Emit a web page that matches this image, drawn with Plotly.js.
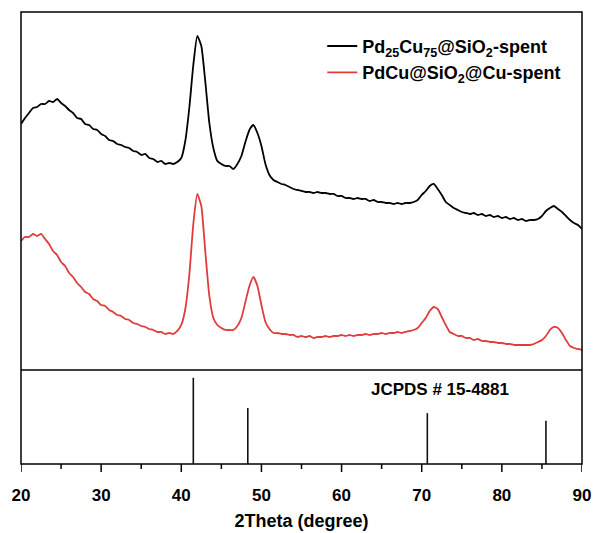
<!DOCTYPE html>
<html>
<head>
<meta charset="utf-8">
<script src="https://cdn.plot.ly/plotly-3.0.1.min.js"></script>
<style>html,body{margin:0;padding:0;background:#fff;}#chart{width:593px;height:533px;}</style>
</head>
<body>
<div id="chart"></div>
<script>
// 2Theta grid (degree)
const twoTheta = [
  20,20.5,21,21.5,22,22.5,23,23.5,24,24.5,
  25,25.5,26,26.5,27,27.5,28,28.5,29,29.5,
  30,30.5,31,31.5,32,32.5,33,33.5,34,34.5,
  35,35.5,36,36.5,37,37.5,38,38.5,39,39.5,
  40,40.5,41,41.5,42,42.5,43,43.5,44,44.5,
  45,45.5,46,46.5,47,47.5,48,48.5,49,49.5,
  50,50.5,51,51.5,52,52.5,53,53.5,54,54.5,
  55,55.5,56,56.5,57,57.5,58,58.5,59,59.5,
  60,60.5,61,61.5,62,62.5,63,63.5,64,64.5,
  65,65.5,66,66.5,67,67.5,68,68.5,69,69.5,
  70,70.5,71,71.5,72,72.5,73,73.5,74,74.5,
  75,75.5,76,76.5,77,77.5,78,78.5,79,79.5,
  80,80.5,81,81.5,82,82.5,83,83.5,84,84.5,
  85,85.5,86,86.5,87,87.5,88,88.5,89,89.5,
  90
];
// Pd25Cu75@SiO2-spent intensity (a.u., offset)
const spentPdCu = [
  246,252,257,262,263,266,266,269,268,271,
  267,264,260,257,252,251,246,245,241,240,
  236,234,230,229,226,225,223,222,219,218,
  215,216,212,211,208,209,206,207,206,208,
  212,229,262,305,334,324,288,247,222,209,
  206,204,204,201,206,214,228,240,245,237,
  224,206,195,190,188,186,185,183,181,180,
  179,178,178,177,178,177,177,176,176,174,
  174,172,172,171,172,171,171,169,170,168,
  168,167,167,166,167,166,167,167,168,170,
  175,179,184,186,181,175,168,165,162,160,
  158,157,156,157,155,156,154,155,153,154,
  152,153,151,152,150,151,149,150,150,151,
  154,159,162,164,161,158,154,150,147,145,
  141
];
// PdCu@SiO2@Cu-spent intensity (a.u.)
const spentCore = [
  129,133,133,136,134,136,131,126,119,115,
  108,104,97,93,87,83,78,76,71,69,
  65,64,60,58,55,54,51,50,47,46,
  44,43,41,40,38,38,36,37,36,39,
  45,61,95,146,176,164,118,74,52,45,
  42,40,40,40,44,52,68,84,93,84,
  65,48,41,37,37,36,36,35,35,33,
  34,33,34,32,33,33,34,33,34,34,
  35,34,35,34,35,35,36,35,36,36,
  37,36,37,37,38,37,38,39,40,42,
  47,52,59,63,61,53,45,38,36,34,
  34,32,32,30,31,29,29,28,28,27,
  27,26,26,25,25,25,25,25,26,28,
  30,34,40,43,42,37,30,24,22,21,
  20
];
// Reference pattern JCPDS # 15-4881
const refPos = [41.5, 48.3, 70.7, 85.5];
const refInt = [100, 65, 59, 50];
const seriesNames = ['Pd<sub>25</sub>Cu<sub>75</sub>@SiO<sub>2</sub>-spent', 'PdCu@SiO<sub>2</sub>@Cu-spent'];
// x-axis tick values
const majorTicks = [20, 30, 40, 50, 60, 70, 80, 90];
const minorTicks = [25, 35, 45, 55, 65, 75, 85];

const stickX = [], stickY = [];
refPos.forEach((p, i) => { stickX.push(p, p, null); stickY.push(0, refInt[i], null); });

const boldFont = {family: 'Liberation Sans, Arial, sans-serif', weight: 'bold', color: '#000'};

const traces = [
  {x: stickX, y: stickY, type: 'scatter', mode: 'lines', showlegend: false,
   line: {color: '#111', width: 1.6}, xaxis: 'x', yaxis: 'y', hoverinfo: 'skip'},
  {x: twoTheta, y: spentPdCu, type: 'scatter', mode: 'lines', name: seriesNames[0], legendgroup: 'a',
   line: {color: '#000000', width: 1.8, shape: 'spline', smoothing: 0.5}, xaxis: 'x', yaxis: 'y2'},
  {x: twoTheta, y: spentCore, type: 'scatter', mode: 'lines', name: seriesNames[1], legendgroup: 'b',
   line: {color: '#e03c3c', width: 1.8, shape: 'spline', smoothing: 0.5}, xaxis: 'x', yaxis: 'y2'}
];

const split = 0.208;
const plotH = 533 - 12 - 69;
const tickShapes = majorTicks.map(v => ({type: 'line', xref: 'x', yref: 'paper', x0: v, x1: v,
  y0: 0, y1: -8 / plotH, line: {color: '#000', width: 1.5}}))
  .concat(minorTicks.map(v => ({type: 'line', xref: 'x', yref: 'paper', x0: v, x1: v,
  y0: 0, y1: -5 / plotH, line: {color: '#000', width: 1.5}})));

const layout = {
  width: 593, height: 533,
  margin: {l: 21, r: 11, t: 12, b: 69},
  paper_bgcolor: '#fff', plot_bgcolor: '#fff',
  showlegend: true,
  legend: {x: 0.537, y: 0.965, xanchor: 'left', yanchor: 'top', bgcolor: 'rgba(0,0,0,0)',
           font: Object.assign({size: 18}, boldFont), tracegroupgap: 4, traceorder: 'normal'},
  xaxis: {range: [20, 90], anchor: 'y', tickmode: 'array', tickvals: majorTicks, ticks: '',
          showgrid: false, zeroline: false, showline: false,
          tickfont: Object.assign({size: 17}, boldFont), ticklabelstandoff: 19,
          title: {text: '2Theta (degree)', font: Object.assign({size: 18}, boldFont), standoff: 10}},
  yaxis: {domain: [0, split], range: [0, 109], showticklabels: false, ticks: '', showgrid: false,
          zeroline: false, showline: false},
  yaxis2: {domain: [split, 1], range: [0, 358], anchor: 'x', showticklabels: false, ticks: '', showgrid: false,
           zeroline: false, showline: false},
  shapes: [
    {type: 'rect', xref: 'paper', yref: 'paper', x0: 0, x1: 1, y0: 0, y1: 1, line: {color: '#000', width: 1.5}},
    {type: 'line', xref: 'paper', yref: 'paper', x0: 0, x1: 1, y0: split, y1: split, line: {color: '#000', width: 1.5}}
  ].concat(tickShapes),
  annotations: [
    {text: 'JCPDS # 15-4881', x: 72.3, xref: 'x', y: 86, yref: 'y', showarrow: false,
     font: Object.assign({size: 17}, boldFont)}
  ]
};

Plotly.newPlot('chart', traces, layout, {displayModeBar: false, staticPlot: true});
</script>
</body>
</html>
